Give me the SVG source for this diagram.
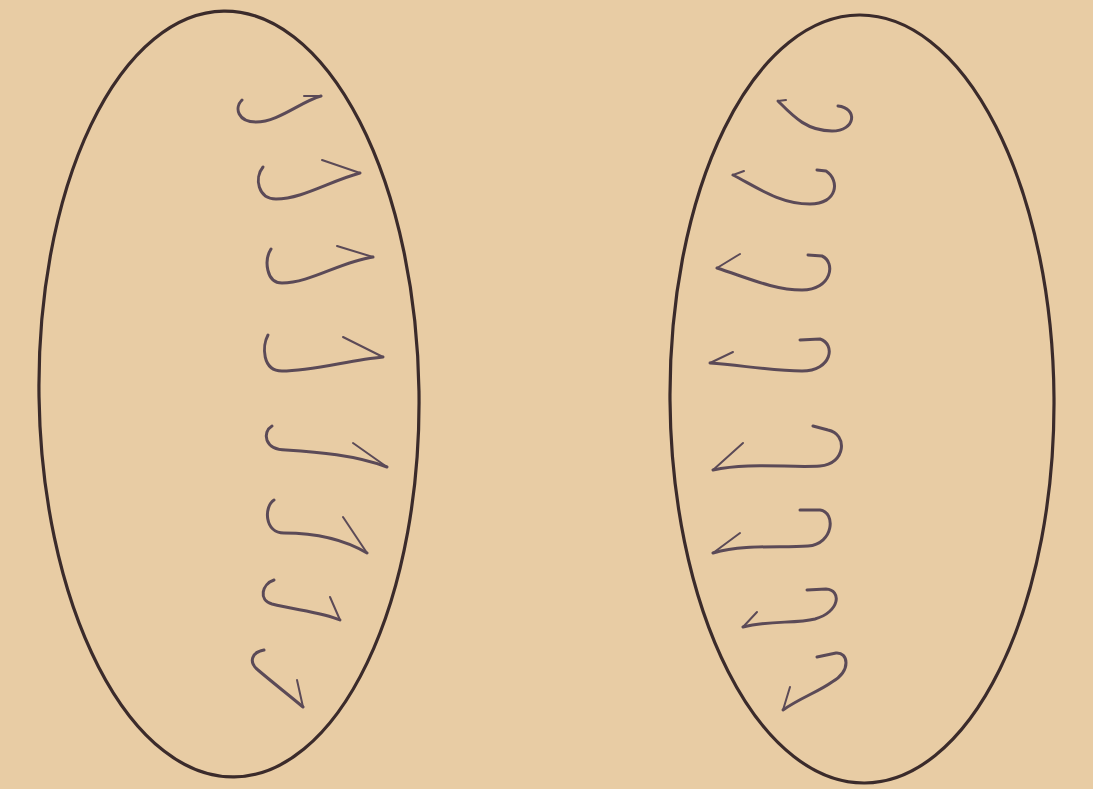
<svg xmlns="http://www.w3.org/2000/svg" width="1093" height="789" viewBox="0 0 1093 789">
<style>
.oval{fill:none;stroke:#3b2b2b;stroke-width:3.2}
.hook{fill:none;stroke:#5b4a57;stroke-width:3;stroke-linecap:round;stroke-linejoin:round}
.barb{fill:none;stroke:#5b4a57;stroke-width:2;stroke-linecap:round}
</style>
<rect width="1093" height="789" fill="#e8cca4"/>
<g id="left-cell">
<ellipse class="oval" cx="229" cy="394" rx="190" ry="383" transform="rotate(-0.8 229 394)"/>
<path class="hook" d="M242,100 C234,108 238,122 256,122 C278,122 300,102 321,96"/><path class="barb" d="M321,96 L304,96"/>
<path class="hook" d="M263,167 C254,178 258,199 276,199 C302,199 330,181 360,173"/><path class="barb" d="M360,173 L322,160"/>
<path class="hook" d="M271,249 C264,260 266,283 282,283 C310,283 340,262 373,257"/><path class="barb" d="M373,257 L337,246"/>
<path class="hook" d="M268,335 C262,346 262,371 282,371 C312,371 350,360 383,357"/><path class="barb" d="M383,357 L343,337"/>
<path class="hook" d="M272,426 C262,432 264,450 286,450 C318,452 355,455 387,467"/><path class="barb" d="M387,467 L353,443"/>
<path class="hook" d="M274,500 C264,506 264,533 284,533 C315,533 345,540 367,553"/><path class="barb" d="M367,553 L343,517"/>
<path class="hook" d="M274,580 C262,584 258,600 272,604 C295,610 322,612 340,620"/><path class="barb" d="M340,620 L330,597"/>
<path class="hook" d="M264,650 C252,652 248,662 258,670 C272,682 290,696 303,707"/><path class="barb" d="M303,707 L297,680"/>
</g>
<g id="right-cell">
<ellipse class="oval" cx="862" cy="399" rx="192" ry="384" transform="rotate(-0.4 862 399)"/>
<path class="hook" d="M778,101 C792,115 806,131 832,131 C856,131 858,108 838,106"/><path class="barb" d="M778,101 L786,100"/>
<path class="hook" d="M733,175 C758,188 780,204 810,204 C838,204 840,180 826,171 L817,170"/><path class="barb" d="M733,175 L744,171"/>
<path class="hook" d="M717,268 C748,278 774,290 802,290 C832,290 836,262 822,256 L808,255"/><path class="barb" d="M717,268 L740,254"/>
<path class="hook" d="M710,363 C740,365 772,371 802,371 C832,371 836,344 820,339 L800,340"/><path class="barb" d="M710,363 L733,352"/>
<path class="hook" d="M713,470 C748,462 790,468 820,466 C846,464 848,434 828,430 L813,426"/><path class="barb" d="M713,470 L743,443"/>
<path class="hook" d="M713,553 C745,544 780,548 808,546 C834,544 836,512 820,510 L800,510"/><path class="barb" d="M713,553 L740,533"/>
<path class="hook" d="M743,627 C770,620 795,624 815,619 C840,612 842,590 826,589 L807,590"/><path class="barb" d="M743,627 L757,612"/>
<path class="hook" d="M783,710 C800,698 818,692 832,682 C852,670 848,652 836,653 L817,657"/><path class="barb" d="M783,710 L790,687"/>
</g>
</svg>
